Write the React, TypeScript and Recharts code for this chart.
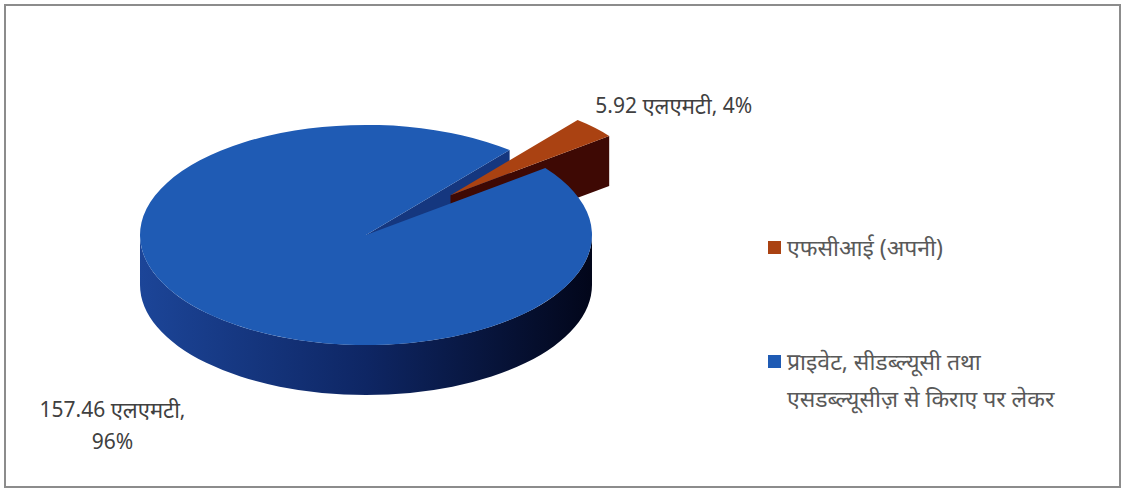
import React from "react";
import { PieChart, Pie, Cell, Legend, Tooltip } from "recharts";

// storage capacity (एलएमटी) by owner
const categories = [
  "एफसीआई (अपनी)",
  "प्राइवेट, सीडब्ल्यूसी तथा\nएसडब्ल्यूसीज़ से किराए पर लेकर",
];
const capacity = [5.92, 157.46];
const unit = "एलएमटी";

const data = categories.map((name, i) => ({ name, value: capacity[i] }));

const topColors = ["#AA4212", "#1F5BB4"];
const wallColors = ["#3E0904", "#15377F"];
const sideLight = ["#5E1607", "#1C4598"];
const sideMid = ["#3A0A03", "#0E2664"];
const sideDark = ["#220401", "#02061A"];

const TILT = 0.487;
const DEPTH = 50;
const EXPLODE = 0.52;
const SHRINK = 0.885;
const FONT = "'Noto Sans', 'Open Sans', sans-serif";
const rad = Math.PI / 180;

function geometry(props: any) {
  const { cx, cy, outerRadius, midAngle, name } = props;
  const i = categories.indexOf(name);
  let ox = cx;
  let oy = cy;
  let r = outerRadius;
  if (i === 0) {
    const e = outerRadius * EXPLODE;
    ox = cx + e * Math.cos(midAngle * rad);
    oy = cy - e * TILT * Math.sin(midAngle * rad);
    r = outerRadius * SHRINK;
  }
  return { i, ox, oy, r };
}

// layer: "back" = walls of the main slice, "front" = walls of the pulled-out slice, "top" = top faces
const makeShape = (layer: string) => (props: any) => {
  const { startAngle, endAngle } = props;
  const { i, ox, oy, r } = geometry(props);
  const ry = r * TILT;
  const a1 = Math.min(startAngle, endAngle);
  const a2 = Math.max(startAngle, endAngle);
  const P = (a: number, dz = 0) =>
    `${ox + r * Math.cos(a * rad)},${oy - ry * Math.sin(a * rad) + dz}`;
  const C = (dz = 0) => `${ox},${oy + dz}`;

  if (layer === "top") {
    const large = a2 - a1 > 180 ? 1 : 0;
    return <path d={`M${C()} L${P(a1)} A${r},${ry} 0 ${large} 0 ${P(a2)} Z`} fill={topColors[i]} />;
  }
  if ((layer === "front") !== (i === 0)) return <g />;

  const walls: string[] = [];
  for (let n = -1; n <= 2; n++) {
    const s = Math.max(a1, 180 + 360 * n);
    const e = Math.min(a2, 360 + 360 * n);
    if (e > s) {
      walls.push(
        `M${P(s)} A${r},${ry} 0 0 0 ${P(e)} L${P(e, DEPTH)} A${r},${ry} 0 0 1 ${P(s, DEPTH)} Z`
      );
    }
  }
  const radial: string[] = [];
  if (Math.cos(a1 * rad) > 0) radial.push(`M${C()} L${P(a1)} L${P(a1, DEPTH)} L${C(DEPTH)} Z`);
  if (Math.cos(a2 * rad) < 0) radial.push(`M${C()} L${P(a2)} L${P(a2, DEPTH)} L${C(DEPTH)} Z`);
  const gid = `side-${i}`;

  return (
    <g>
      <defs>
        <linearGradient id={gid} gradientUnits="userSpaceOnUse" x1={ox - r} y1={0} x2={ox + r} y2={0}>
          <stop offset="0" stopColor={sideLight[i]} />
          <stop offset="0.5" stopColor={sideMid[i]} />
          <stop offset="1" stopColor={sideDark[i]} />
        </linearGradient>
      </defs>
      {radial.map((d, k) => (
        <path key={"r" + k} d={d} fill={wallColors[i]} />
      ))}
      {walls.map((d, k) => (
        <path key={"w" + k} d={d} fill={`url(#${gid})`} />
      ))}
    </g>
  );
};

const backShape = makeShape("back");
const frontShape = makeShape("front");
const topShape = makeShape("top");

function renderLabel(props: any) {
  const { midAngle, value, percent } = props;
  const { ox, oy, r } = geometry(props);
  const c = Math.cos(midAngle * rad);
  const s = Math.sin(midAngle * rad);
  const px = ox + r * c;
  const py = oy - r * TILT * s + (s < 0 ? DEPTH : 0);
  const pct = Math.round(percent * 100);
  const style = { fontFamily: FONT, fontSize: 21, fill: "#404040" };
  const uStyle = { fontSize: 22 };
  if (c >= 0) {
    return (
      <text x={px + 1} y={py - 23} textAnchor="start" dominantBaseline="central" style={style}>
        {`${value.toFixed(2)} `}
        <tspan style={uStyle}>{unit}</tspan>
        {`, ${pct}%`}
      </text>
    );
  }
  return (
    <text x={px - 91} y={py + 48} textAnchor="middle" dominantBaseline="central" style={style}>
      <tspan x={px - 91}>
        {`${value.toFixed(2)} `}
        <tspan style={uStyle}>{unit}</tspan>
        {","}
      </tspan>
      <tspan x={px - 91} dy={32}>{`${pct}%`}</tspan>
    </text>
  );
}

function renderLegend(props: any) {
  const items = (props.payload || []).filter((p: any) => p.type !== "none");
  return (
    <div style={{ fontFamily: FONT, fontSize: 23, color: "#595959", lineHeight: "37px" }}>
      {items.map((p: any, k: number) => (
        <div key={k} style={{ display: "flex", alignItems: "flex-start", marginBottom: 77 }}>
          <span
            style={{
              width: 13,
              height: 13,
              background: p.color,
              marginTop: 12,
              marginRight: 6,
              flex: "none",
            }}
          />
          <span style={{ whiteSpace: "pre-line" }}>{p.value}</span>
        </div>
      ))}
    </div>
  );
}

export default function App() {
  const common = {
    data,
    dataKey: "value",
    nameKey: "name",
    cx: 366,
    cy: 235,
    outerRadius: 226,
    startAngle: 37.5,
    endAngle: 397.5,
    stroke: "none",
    isAnimationActive: false,
  };
  return (
    <div style={{ position: "absolute", left: 0, top: 0, width: 1126, height: 493, background: "#fff" }}>
      <div
        style={{
          position: "absolute",
          left: 4,
          top: 4,
          width: 1117,
          height: 484,
          border: "2px solid #8c8c8c",
          boxSizing: "border-box",
        }}
      />
      <PieChart width={1126} height={493} margin={{ top: 0, right: 0, bottom: 0, left: 0 }}>
        <Pie {...common} legendType="none" shape={backShape} activeShape={backShape} inactiveShape={backShape} />
        <Pie {...common} legendType="none" shape={frontShape} activeShape={frontShape} inactiveShape={frontShape} />
        <Pie
          {...common}
          shape={topShape}
          activeShape={topShape}
          inactiveShape={topShape}
          label={renderLabel}
          labelLine={false}
        >
          {data.map((d, i) => (
            <Cell key={d.name} fill={topColors[i]} />
          ))}
        </Pie>
        <Tooltip defaultIndex={0} content={() => null} />
        <Legend
          layout="vertical"
          align="right"
          verticalAlign="middle"
          wrapperStyle={{ left: 768, top: 229, width: 350, right: "auto", bottom: "auto" }}
          content={renderLegend}
        />
      </PieChart>
    </div>
  );
}
